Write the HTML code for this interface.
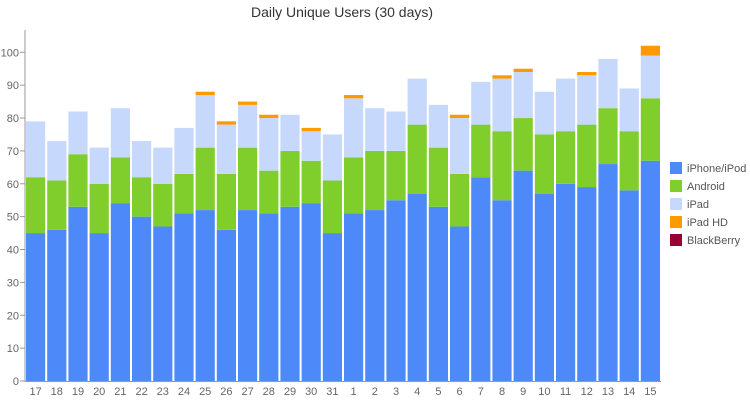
<!DOCTYPE html>
<html><head><meta charset="utf-8"><style>
body{margin:0;background:#fff;}
svg text{font-family:"Liberation Sans",sans-serif;}
</style></head><body>
<svg id="c" width="750" height="400">
<text x="342" y="17" text-anchor="middle" font-size="14" fill="#333">Daily Unique Users (30 days)</text>
</svg>
<script>
const categories=["17","18","19","20","21","22","23","24","25","26","27","28","29","30","31","1","2","3","4","5","6","7","8","9","10","11","12","13","14","15"];
const iphone=[45,46,53,45,54,50,47,51,52,46,52,51,53,54,45,51,52,55,57,53,47,62,55,64,57,60,59,66,58,67];
const android=[17,15,16,15,14,12,13,12,19,17,19,13,17,13,16,17,18,15,21,18,16,16,21,16,18,16,19,17,18,19];
const ipad=[17,12,13,11,15,11,11,14,16,15,13,16,11,9,14,18,13,12,14,13,17,13,16,14,13,16,15,15,13,13];
const ipadhd=[0,0,0,0,0,0,0,0,1,1,1,1,0,1,0,1,0,0,0,0,1,0,1,1,0,0,1,0,0,3];
const blackberry=[0,0,0,0,0,0,0,0,0,0,0,0,0,0,0,0,0,0,0,0,0,0,0,0,0,0,0,0,0,0];
const yTicks=[0,10,20,30,40,50,60,70,80,90,100];
const seriesNames=["iPhone/iPod","Android","iPad","iPad HD","BlackBerry"];
const seriesColors=["#4d89f9","#7fce2b","#c6d9fd","#ff9900","#990033"];
const series=[iphone,android,ipad,ipadhd,blackberry];
const svg=document.getElementById('c');const NS="http://www.w3.org/2000/svg";
const x0=25,x1=661,y0=381,pxu=3.287;
const slot=(x1-x0)/categories.length;
const y=v=>y0-v*pxu;
const xs=i=>x0+i*slot+1;
function mk(t,a){const e=document.createElementNS(NS,t);for(const k in a)e.setAttribute(k,a[k]);svg.appendChild(e);return e;}
categories.forEach((c,i)=>{let base=0;
series.forEach((s,si)=>{const v=s[i];if(v<=0)return;
const r=mk('rect',{x:xs(i),y:y(base+v),width:slot-2,height:v*pxu,fill:seriesColors[si]});


base+=v;});
const t=mk('text',{x:xs(i)+(slot-2)/2,y:395,'text-anchor':'middle','font-size':11,fill:'#666'});t.textContent=c;


});
yTicks.forEach(v=>{const l=mk('line',{x1:20,x2:25,y1:y(v),y2:y(v),stroke:'#999'});


const t=mk('text',{x:19,y:y(v)+4,'text-anchor':'end','font-size':11,fill:'#666'});t.textContent=v;

});
const ax=mk('line',{x1:25,x2:25,y1:30,y2:381,stroke:'#999'});


const bx=mk('line',{x1:25,x2:661,y1:381.5,y2:381.5,stroke:'#999'});


seriesNames.forEach((n,i)=>{const cy=168+i*18;
const r=mk('rect',{x:670,y:cy-6,width:12,height:12,fill:seriesColors[i]});


const t=mk('text',{x:687,y:cy+4,'font-size':11,fill:'#555'});t.textContent=n;

});
</script>
</body></html>
